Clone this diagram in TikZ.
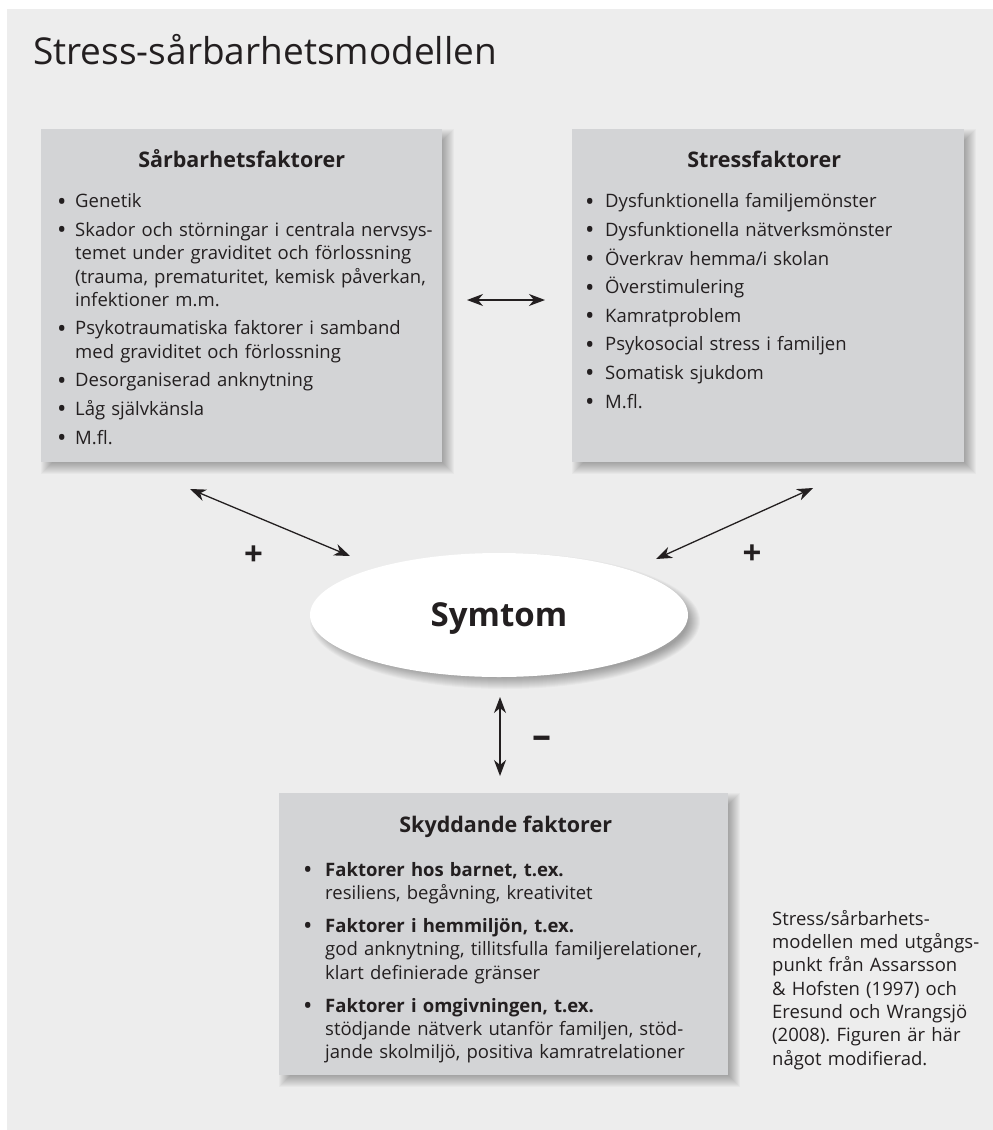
\documentclass[tikz,border=0pt]{standalone}
\usepackage{fontspec}
\setmainfont{Open Sans}
\usetikzlibrary{arrows.meta,calc,shapes.geometric}
\definecolor{panel}{HTML}{EDEDED}
\definecolor{boxfill}{HTML}{D3D4D6}
\definecolor{ink}{HTML}{231F20}
\frenchspacing
\newlength{\bulw}
\newcommand{\itm}[1]{\par\hangindent=\bulw\hangafter=1\noindent\makebox[\bulw][l]{\raisebox{-2.4pt}{\scalebox{1.35}{\textbullet}}}\rule{0pt}{15pt}#1}
\newcommand{\boxshadow}[4]{%
  \foreach \d in {-6,...,6}{\fill[black,opacity=0.026] ({#1+6-\d},{#2+6-\d}) rectangle ({#3+6+\d},{#4+6+\d});}}
\tikzset{
  box/.style={fill=boxfill, draw=none, inner sep=0pt, anchor=north west},
  boxtitle/.style={anchor=base, inner sep=0pt, text=ink, font=\fontsize{21.5}{26}\selectfont\bfseries},
  listtext/.style={anchor=north west, inner sep=0pt, text=ink, align=left,
    font=\fontsize{18.5}{23.3}\selectfont\frenchspacing},
  conn/.style={{Stealth[length=16pt,width=12pt,inset=5pt]}-{Stealth[length=16pt,width=12pt,inset=5pt]}, line width=1.3pt, draw=ink},
  sign/.style={inner sep=0pt, text=ink, font=\fontsize{33}{33}\selectfont\bfseries}
}
\begin{document}
\begin{tikzpicture}[x=1pt,y=-1pt]
\useasboundingbox (0,0) rectangle (993,1130);
\fill[white] (0,0) rectangle (993,1130);
\fill[panel] (7,9) rectangle (993,1130);

% title
\node[anchor=base west, inner sep=0pt, text=ink, font=\fontsize{37}{44}\selectfont] (title) at (33,64) {Stress-sårbarhetsmodellen};

% shadows
\boxshadow{41}{129}{442}{462}
\boxshadow{572}{129}{964}{462}
\boxshadow{279}{793}{728}{1075}
\foreach \d in {-6,...,6}{\fill[black,opacity=0.026] (505,621) ellipse [x radius={(189+\d)*1pt}, y radius={(62+\d)*1pt}];}

% boxes
\node[box, minimum width=401pt, minimum height=333pt] (sb) at (41,129) {};
\node[box, minimum width=392pt, minimum height=333pt] (st) at (572,129) {};
\node[box, minimum width=449pt, minimum height=282pt] (sk) at (279,793) {};

% titles
\node[boxtitle] (sbt) at ($(sb.north)+(0,38)$) {Sårbarhetsfaktorer};
\node[boxtitle] (stt) at ($(st.north)+(-4,38)$) {Stressfaktorer};
\node[boxtitle] (skt) at ($(sk.north)+(2,39)$) {Skyddande faktorer};

% lists
\node[listtext, text width=420pt] (sbl) at (57,179) {\setlength{\bulw}{18pt}\setlength{\parskip}{5.3pt}%
\itm{Genetik}
\itm{Skador och störningar i centrala nervsys-\newline temet under graviditet och förlossning\newline (trauma, prematuritet, kemisk påverkan,\newline infektioner m.m.}
\itm{Psykotraumatiska faktorer i samband\newline med graviditet och förlossning}
\itm{Desorganiserad anknytning}
\itm{Låg självkänsla}
\itm{M.fl.}\par};

\node[listtext, text width=400pt] (stl) at (585,179) {\setlength{\bulw}{20pt}\setlength{\parskip}{5.3pt}%
\itm{Dysfunktionella familjemönster}
\itm{Dysfunktionella nätverksmönster}
\itm{Överkrav hemma/i skolan}
\itm{Överstimulering}
\itm{Kamratproblem}
\itm{Psykosocial stress i familjen}
\itm{Somatisk sjukdom}
\itm{M.fl.}\par};

\node[listtext, text width=460pt] (skl) at (303,843) {\setlength{\bulw}{22pt}\setlength{\parskip}{9.7pt}%
\itm{\textbf{Faktorer hos barnet, t.ex.}\newline resiliens, begåvning, kreativitet}
\itm{\textbf{Faktorer i hemmiljön, t.ex.}\newline god anknytning, tillitsfulla familjerelationer,\newline klart definierade gränser}
\itm{\textbf{Faktorer i omgivningen, t.ex.}\newline stödjande nätverk utanför familjen, stöd-\newline jande skolmiljö, positiva kamratrelationer}\par};

% ellipse
\node[ellipse, fill=white, inner sep=0pt, minimum width=378pt, minimum height=124pt,
  text height=23.4pt, text depth=0pt, text=ink, font=\fontsize{33}{36}\selectfont\bfseries] (sym) at (499,615) {Symtom};

% connectors
\coordinate (ha) at (467,300);
\coordinate (hb) at (545,300);
\coordinate (la) at (190,489);
\coordinate (lb) at (350,556);
\coordinate (ra) at (813,488);
\coordinate (rb) at (656,559);
\coordinate (va) at (500,697);
\coordinate (vb) at (500,776);
\draw[conn] (ha) -- (hb);
\draw[conn] (la) -- (lb);
\draw[conn] (ra) -- (rb);
\draw[conn] (va) -- (vb);

% signs
\node[sign] (plusl) at (253.5,556) {+};
\node[sign] (plusr) at (752,555) {+};
\node[sign, font=\fontsize{38}{38}\selectfont\bfseries] (minus) at (542,742) {–};

% caption
\node[listtext, text width=220pt] (cap) at (772,910) {\rule{0pt}{15pt}Stress/sårbarhets-\newline modellen med utgångs-\newline punkt från Assarsson\newline \& Hofsten (1997) och\newline Eresund och Wrangsjö\newline (2008). Figuren är här\newline något modifierad.};
\end{tikzpicture}
\end{document}
